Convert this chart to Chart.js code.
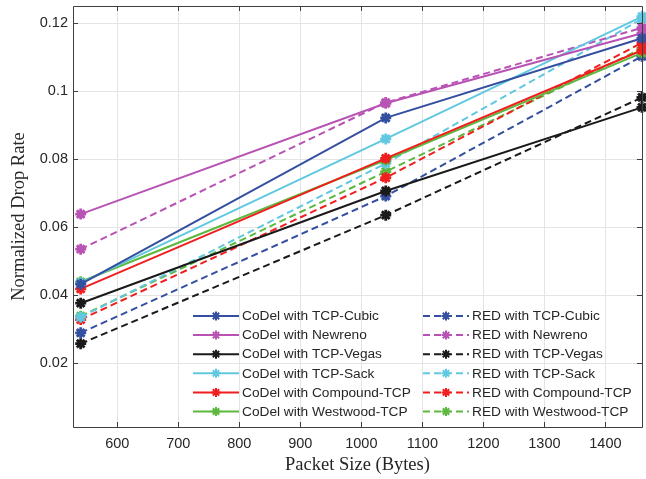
<!DOCTYPE html>
<html>
<head>
<meta charset="utf-8">
<script src="https://cdn.jsdelivr.net/npm/chart.js@4/dist/chart.umd.min.js"></script>
<style>
  body { margin: 0; background: #fff; }
</style>
</head>
<body>
<canvas id="dropRateChart" width="646" height="479"></canvas>

<script>
// packet sizes on the x axis
const packetSizes = [540, 1040, 1460];

// CoDel results
const codelCubic    = [0.0432, 0.0921, 0.1155];
const codelNewreno  = [0.0638, 0.0964, 0.1170];
const codelVegas    = [0.0376, 0.0706, 0.0952];
const codelSack     = [0.0436, 0.0859, 0.1219];
const codelCompound = [0.0418, 0.0802, 0.1120];
const codelWestwood = [0.0439, 0.0797, 0.1112];

// RED results
const redCubic    = [0.0289, 0.0691, 0.1102];
const redNewreno  = [0.0535, 0.0966, 0.1186];
const redVegas    = [0.0257, 0.0635, 0.0981];
const redSack     = [0.0335, 0.0787, 0.1212];
const redCompound = [0.0328, 0.0745, 0.1142];
const redWestwood = [0.0338, 0.0763, 0.1125];

const xTicks = [600, 700, 800, 900, 1000, 1100, 1200, 1300, 1400];
const yTicks = [0.02, 0.04, 0.06, 0.08, 0.1, 0.12];

const colors = {
    cubic: 'rgb(52, 78, 160)',
    newreno: 'rgb(184, 82, 180)',
    vegas: 'rgb(26, 26, 26)',
    sack: 'rgb(96, 200, 224)',
    compound: 'rgb(240, 30, 30)',
    westwood: 'rgb(92, 184, 62)'
};

const sansFont = '"Liberation Sans", Arial, sans-serif';
const serifFont = '"Liberation Serif", "Times New Roman", serif';

function series(label, values, color, dashed) {
    return {
        label: label,
        data: packetSizes.map((x, i) => ({ x: x, y: values[i] })),
        borderColor: color,
        backgroundColor: color,
        borderWidth: 2,
        borderDash: dashed ? [7, 4] : [],
        pointStyle: 'star',
        pointRadius: 5.5,
        pointBorderWidth: 2.8,
        pointHoverRadius: 5.5,
        tension: 0,
        fill: false,
        clip: 10
    };
}

const datasets = [
    series('CoDel with TCP-Cubic', codelCubic, colors.cubic, false),
    series('CoDel with Newreno', codelNewreno, colors.newreno, false),
    series('CoDel with TCP-Vegas', codelVegas, colors.vegas, false),
    series('CoDel with TCP-Sack', codelSack, colors.sack, false),
    series('CoDel with Compound-TCP', codelCompound, colors.compound, false),
    series('CoDel with Westwood-TCP', codelWestwood, colors.westwood, false),
    series('RED with TCP-Cubic', redCubic, colors.cubic, true),
    series('RED with Newreno', redNewreno, colors.newreno, true),
    series('RED with TCP-Vegas', redVegas, colors.vegas, true),
    series('RED with TCP-Sack', redSack, colors.sack, true),
    series('RED with Compound-TCP', redCompound, colors.compound, true),
    series('RED with Westwood-TCP', redWestwood, colors.westwood, true)
];

// box around the axes with ticks pointing inwards
const axesBox = {
    id: 'axesBox',
    afterDatasetsDraw(chart) {
        const { ctx, chartArea: a, scales } = chart;
        ctx.save();
        ctx.strokeStyle = '#3f3f3f';
        ctx.lineWidth = 1;
        ctx.beginPath();
        ctx.rect(a.left + 0.5, a.top + 0.5, a.right - a.left, a.bottom - a.top);
        xTicks.forEach(v => {
            const px = Math.round(scales.x.getPixelForValue(v)) + 0.5;
            ctx.moveTo(px, a.bottom); ctx.lineTo(px, a.bottom - 5);
            ctx.moveTo(px, a.top); ctx.lineTo(px, a.top + 5);
        });
        yTicks.forEach(v => {
            const py = Math.round(scales.y.getPixelForValue(v)) + 0.5;
            ctx.moveTo(a.left, py); ctx.lineTo(a.left + 5, py);
            ctx.moveTo(a.right, py); ctx.lineTo(a.right - 5, py);
        });
        ctx.stroke();
        ctx.restore();
    }
};

// two-column legend: CoDel on the left, RED on the right
const twoColumnLegend = {
    id: 'twoColumnLegend',
    afterDatasetsDraw(chart) {
        const ctx = chart.ctx;
        const colX = [193, 423];
        const rowY = 316;
        const rowGap = 19.1;
        ctx.save();
        ctx.font = '13.7px ' + sansFont;
        ctx.textBaseline = 'middle';
        chart.data.datasets.forEach((ds, i) => {
            const x0 = colX[Math.floor(i / 6)];
            const y = rowY + (i % 6) * rowGap;
            ctx.strokeStyle = ds.borderColor;
            ctx.lineWidth = 2;
            ctx.setLineDash(ds.borderDash);
            ctx.beginPath();
            ctx.moveTo(x0, y);
            ctx.lineTo(x0 + 46, y);
            ctx.stroke();
            ctx.setLineDash([]);
            Chart.helpers.drawPoint(ctx, {
                pointStyle: 'star', radius: 4.5, borderWidth: 2.2, rotation: 0
            }, x0 + 23, y);
            ctx.fillStyle = '#262626';
            ctx.fillText(ds.label, x0 + 49, y + 0.5);
        });
        ctx.restore();
    }
};

const ctx = document.getElementById('dropRateChart').getContext('2d');
new Chart(ctx, {
    type: 'line',
    data: { datasets: datasets },
    plugins: [axesBox, twoColumnLegend],
    options: {
        responsive: false,
        animation: false,
        layout: { autoPadding: false, padding: { top: 6, right: 4, left: 0, bottom: 0 } },
        plugins: {
            legend: { display: false },
            tooltip: { enabled: false }
        },
        scales: {
            x: {
                type: 'linear',
                min: 527.4,
                max: 1460,
                afterBuildTicks: scale => { scale.ticks = xTicks.map(v => ({ value: v })); },
                afterFit: scale => {
                    scale.height = 52;
                    scale.paddingLeft = 0;
                    scale.paddingRight = 0;
                },
                grid: { color: '#e4e4e4', drawTicks: false },
                border: { display: false },
                ticks: {
                    padding: 8,
                    color: '#262626',
                    font: { family: sansFont, size: 14.5 },
                    callback: value => String(value)
                },
                title: {
                    display: true,
                    text: 'Packet Size (Bytes)',
                    color: '#262626',
                    padding: { top: 0, bottom: 3 },
                    font: { family: serifFont, size: 18.5 }
                }
            },
            y: {
                min: 0.0012,
                max: 0.125,
                afterBuildTicks: scale => { scale.ticks = yTicks.map(v => ({ value: v })); },
                afterFit: scale => {
                    scale.width = 73;
                    scale.paddingTop = 0;
                    scale.paddingBottom = 0;
                },
                grid: { color: '#e4e4e4', drawTicks: false },
                border: { display: false },
                ticks: {
                    padding: 5,
                    color: '#262626',
                    font: { family: sansFont, size: 14.5 },
                    callback: value => String(parseFloat(value.toFixed(2)))
                },
                title: {
                    display: true,
                    text: 'Normalized Drop Rate',
                    color: '#262626',
                    padding: { top: 8, bottom: 0 },
                    font: { family: serifFont, size: 18.5 }
                }
            }
        }
    }
});
</script>
</body>
</html>
